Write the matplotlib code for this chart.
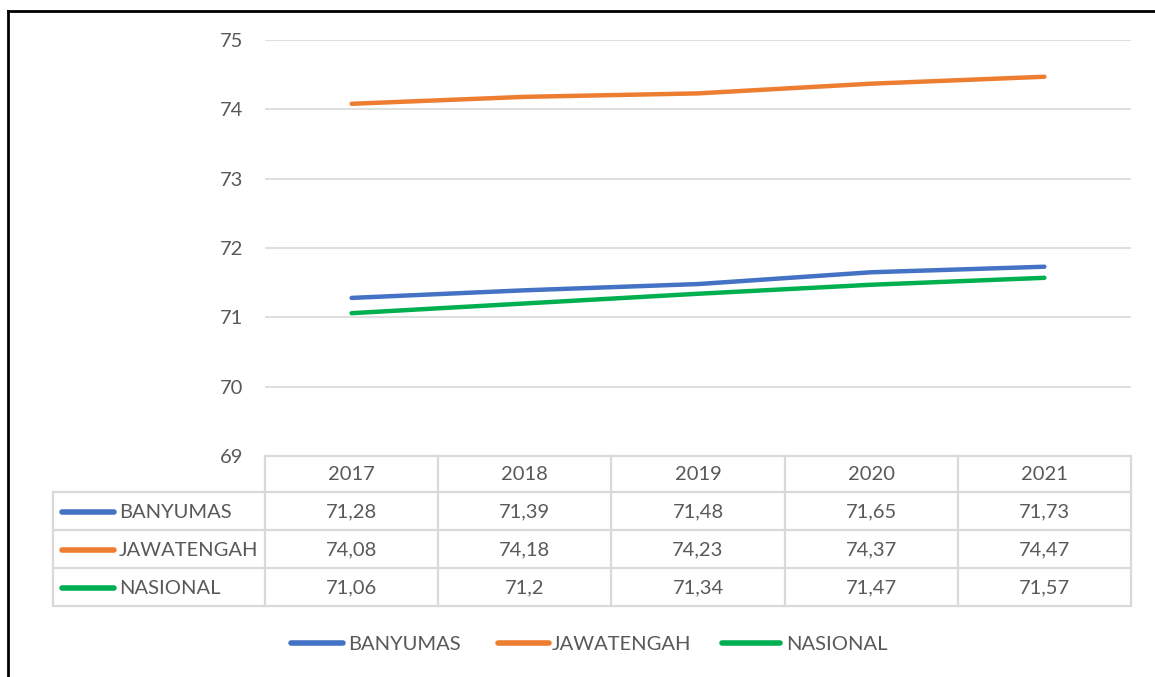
import matplotlib
matplotlib.use("Agg")
import matplotlib.pyplot as plt

years = ["2017", "2018", "2019", "2020", "2021"]
series_names = ["BANYUMAS", "JAWATENGAH", "NASIONAL"]
banyumas = [71.28, 71.39, 71.48, 71.65, 71.73]
jawatengah = [74.08, 74.18, 74.23, 74.37, 74.47]
nasional = [71.06, 71.2, 71.34, 71.47, 71.57]
y_ticks = [69, 70, 71, 72, 73, 74, 75]

series = [banyumas, jawatengah, nasional]
colors = ["#4472C4", "#ED7D31", "#00B050"]
txt = "#595959"
grid = "#D9D9D9"
plt.rcParams['font.family'] = ['Lato', 'DejaVu Sans']
FS = 14.5

W, H = 1155, 677
fig = plt.figure(figsize=(W / 100, H / 100), dpi=100)
fig.patch.set_facecolor("white")

L, R, T, B = 265, 1131, 40, 456
ax = fig.add_axes([L / W, 1 - B / H, (R - L) / W, (B - T) / H])
ax.set_xlim(-0.5, len(years) - 0.5)
ax.set_ylim(min(y_ticks), max(y_ticks))
for s, c in zip(series, colors):
    ax.plot(range(len(years)), s, color=c, lw=3.2, solid_capstyle="round")
ax.set_yticks(y_ticks)
ax.set_yticklabels([str(t) for t in y_ticks], color=txt, fontsize=FS)
ax.tick_params(axis="y", length=0, pad=16)
ax.set_xticks([])
ax.grid(axis="y", color=grid, lw=1.2)
ax.set_axisbelow(True)
for sp in ax.spines.values():
    sp.set_visible(False)

# overlay in pixel coordinates
ov = fig.add_axes([0, 0, 1, 1], zorder=5)
ov.set_xlim(0, W)
ov.set_ylim(H, 0)
ov.axis("off")
ov.patch.set_alpha(0)

# border
ov.plot([8, 8], [11, H + 5], color="black", lw=2)
ov.plot([8, W + 5], [11, 11], color="black", lw=2)

# table
colw = (R - L) / len(years)
rows_y = [456, 492, 530, 568, 606]
tl = 53
lc = dict(color=grid, lw=1.6)
ov.plot([L, R], [rows_y[0], rows_y[0]], **lc)
for y in rows_y[1:]:
    ov.plot([tl, R], [y, y], **lc)
ov.plot([tl, tl], [rows_y[1], rows_y[-1]], **lc)
for i in range(len(years) + 1):
    x = L + i * colw
    ov.plot([x, x], [rows_y[0], rows_y[-1]], **lc)
for i, yr in enumerate(years):
    ov.text(L + (i + 0.5) * colw, (rows_y[0] + rows_y[1]) / 2 + 1, yr,
            ha="center", va="center", color=txt, fontsize=FS)
for r, (name, s, c) in enumerate(zip(series_names, series, colors)):
    yc = (rows_y[r + 1] + rows_y[r + 2]) / 2 + 1
    ov.plot([62, 114], [yc, yc], color=c, lw=4, solid_capstyle="round")
    ov.text(119, yc, name, ha="left", va="center", color=txt, fontsize=FS)
    for i, v in enumerate(s):
        ov.text(L + (i + 0.5) * colw, yc, f"{v:g}".replace(".", ","),
                ha="center", va="center", color=txt, fontsize=FS)

# bottom legend
leg_y = 643
leg_x = [(291, 343, 348), (498, 549, 552), (722, 780, 786)]
for (x0, x1, xt), name, c in zip(leg_x, series_names, colors):
    ov.plot([x0, x1], [leg_y, leg_y], color=c, lw=4, solid_capstyle="round")
    ov.text(xt, leg_y + 1, name, ha="left", va="center", color=txt, fontsize=FS)

fig.savefig("out.png", dpi=100, facecolor="white")
